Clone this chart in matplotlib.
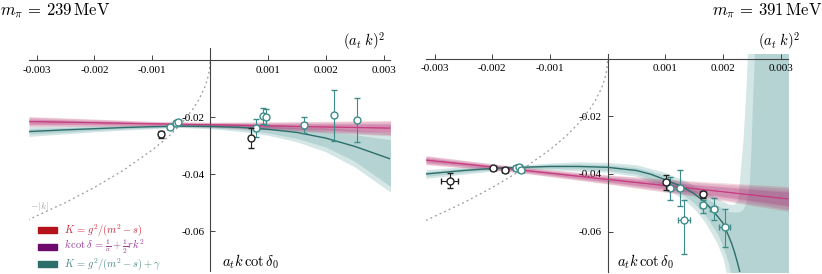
import matplotlib.pyplot as plt
import numpy as np
from matplotlib.patches import Rectangle

plt.rcParams['font.family'] = ['Liberation Serif', 'DejaVu Serif']
plt.rcParams['mathtext.fontset'] = 'cm'
plt.rcParams['axes.unicode_minus'] = False

# colours
RED = "#b5121b"
PURPLE = "#6e0a6e"
TEAL = "#2b6e6a"
TEAL_PT = "#3d8c8a"
BAND_OUT = "#d4e6e6"
BAND_IN = "#b5d3d3"

# ---------------- m_pi = 239 MeV ----------------
# teal fit (K = g^2/(m^2-s) + gamma) and its bands
l_x = [-0.00313, -0.0025, -0.002, -0.0015, -0.001, -0.0007, -0.0005, 0.0, 0.0005, 0.001, 0.0015, 0.002, 0.0025, 0.00313]
l_teal = [-0.0251, -0.0245, -0.0241, -0.0237, -0.0234, -0.0233, -0.0232, -0.0233, -0.0236, -0.0243, -0.0254, -0.0274, -0.0303, -0.0348]
l_hi_out = [-0.0234, -0.0232, -0.0230, -0.0228, -0.0227, -0.0228, -0.0227, -0.0225, -0.0224, -0.0226, -0.0230, -0.0238, -0.0245, -0.0255]
l_hi_in = [-0.0241, -0.0237, -0.0234, -0.0232, -0.0230, -0.0230, -0.0229, -0.0228, -0.0229, -0.0232, -0.0238, -0.0250, -0.0262, -0.0280]
l_lo_in = [-0.0260, -0.0253, -0.0247, -0.0242, -0.0238, -0.0236, -0.0235, -0.0238, -0.0244, -0.0256, -0.0275, -0.0305, -0.0355, -0.0445]
l_lo_out = [-0.0268, -0.0259, -0.0252, -0.0246, -0.0241, -0.0238, -0.0237, -0.0241, -0.0250, -0.0264, -0.0287, -0.0322, -0.0375, -0.0465]

# pink bands (red K-matrix and purple effective range)
lp_x = [-0.00313, -0.002, -0.001, -0.0006, 0.0, 0.001, 0.002, 0.00313]
lp_mid = [-0.0216, -0.0220, -0.0224, -0.0225, -0.0227, -0.0231, -0.0235, -0.0239]
lp_w_out = [0.0018, 0.0013, 0.0009, 0.0008, 0.0009, 0.0014, 0.0020, 0.0027]
lp_w_in = [0.0010, 0.0007, 0.0005, 0.0004, 0.0005, 0.0008, 0.0012, 0.0016]

# lattice points
l_blk_x = [-0.00085, 0.00070]
l_blk_y = [-0.0261, -0.0273]
l_blk_xe = [0.00004, 0.00003]
l_blk_ye = [0.0011, 0.0036]

l_tl_x = [-0.00070, -0.00059, -0.00055, 0.00080, 0.00092, 0.00097, 0.00163, 0.00215, 0.00254]
l_tl_y = [-0.0236, -0.0222, -0.0217, -0.0238, -0.0197, -0.0199, -0.0227, -0.0194, -0.0210]
l_tl_xe = [0.00004, 0.00004, 0.00004, 0.00003, 0.00003, 0.00003, 0.00003, 0.00003, 0.00003]
l_tl_ye = [0.0007, 0.0006, 0.0006, 0.0031, 0.0028, 0.0028, 0.0028, 0.0089, 0.0078]

# ---------------- m_pi = 391 MeV ----------------
r_cx = [-0.00315, -0.0025, -0.002, -0.0015, -0.001, -0.0005, 0.0, 0.0005, 0.00075, 0.001, 0.0013, 0.0015,
        0.0017, 0.0019, 0.002, 0.0021, 0.00215, 0.0022, 0.00225, 0.0023]
r_teal = [-0.0400, -0.0388, -0.0381, -0.0377, -0.0374, -0.0374, -0.0377, -0.0388, -0.0401, -0.0420, -0.0445, -0.0468,
          -0.0500, -0.0545, -0.0570, -0.0615, -0.0640, -0.0670, -0.0705, -0.0745]

r_bx = [-0.00315, -0.0025, -0.002, -0.0016, -0.001, -0.0005, 0.0, 0.0005, 0.001, 0.0013, 0.0015, 0.0017, 0.0019,
        0.002, 0.0021, 0.0022, 0.00226, 0.0023, 0.00235, 0.0024, 0.00243, 0.00246, 0.00249, 0.00252, 0.00255, 0.00315]
r_hi_out = [-0.0385, -0.0375, -0.0371, -0.0371, -0.0362, -0.0358, -0.0360, -0.0368, -0.0395, -0.0420, -0.0440, -0.0460,
            -0.0484, -0.0495, -0.0505, -0.0505, -0.0486, -0.0397, -0.0280, -0.0108, 0.003, 0.003, 0.003, 0.003, 0.003, 0.003]
r_hi_in = [-0.0392, -0.0381, -0.0376, -0.0374, -0.0367, -0.0365, -0.0368, -0.0378, -0.0405, -0.0432, -0.0455, -0.0482,
           -0.0508, -0.0520, -0.0530, -0.0532, -0.0532, -0.0530, -0.0522, -0.0500, -0.0470, -0.0430, -0.0300, -0.0120, 0.003, 0.003]
r_lo_in = [-0.0408, -0.0395, -0.0386, -0.0380, -0.0381, -0.0383, -0.0388, -0.0400, -0.0440, -0.0470, -0.0500, -0.0545,
           -0.0605, -0.0650, -0.0710, -0.0800, -0.08, -0.08, -0.08, -0.08, -0.08, -0.08, -0.08, -0.08, -0.08, -0.08]
r_lo_out = [-0.0415, -0.0401, -0.0390, -0.0383, -0.0386, -0.0390, -0.0394, -0.0408, -0.0450, -0.0485, -0.0520, -0.0570,
            -0.0640, -0.0690, -0.0780, -0.0800, -0.08, -0.08, -0.08, -0.08, -0.08, -0.08, -0.08, -0.08, -0.08, -0.08]

rp_x = [-0.00315, -0.0016, 0.0, 0.0016, 0.00315]
rp_mid = [-0.0352, -0.0384, -0.0419, -0.0453, -0.0487]
rp_w_out = [0.0016, 0.0010, 0.0016, 0.0027, 0.0043]
rp_w_in = [0.0009, 0.0005, 0.0009, 0.0016, 0.0027]

r_blk_x = [-0.00274, -0.00198, -0.00178, 0.00102, 0.00165]
r_blk_y = [-0.0424, -0.0381, -0.0387, -0.0428, -0.0471]
r_blk_xe = [0.00015, 0.00005, 0.00005, 0.00004, 0.00004]
r_blk_ye = [0.0026, 0.0004, 0.0005, 0.0026, 0.0012]

r_tl_x = [-0.00159, -0.00154, -0.00150, 0.00109, 0.00125, 0.00133, 0.00165, 0.00184, 0.00203]
r_tl_y = [-0.0381, -0.0375, -0.0386, -0.0450, -0.0450, -0.0561, -0.0508, -0.0523, -0.0583]
r_tl_xe = [0.00005, 0.00005, 0.00005, 0.00004, 0.00004, 0.00010, 0.00004, 0.00006, 0.00010]
r_tl_ye_lo = [0.0005, 0.0005, 0.0005, 0.0040, 0.0062, 0.0116, 0.0028, 0.0037, 0.0070]
r_tl_ye_hi = [0.0005, 0.0005, 0.0005, 0.0040, 0.0062, 0.0070, 0.0018, 0.0038, 0.0063]

# -|k| line (x = k^2 < 0)
k_x = [-0.00315, -0.0025, -0.002, -0.0015, -0.001, -0.0007, -0.0005, -0.0003, -0.0002, -0.0001,
       -0.00005, -0.00002, -0.00001, -0.000004, 0.0]
k_y = [-0.0561, -0.0500, -0.0447, -0.0387, -0.0316, -0.0265, -0.0224, -0.0173, -0.0141, -0.0100,
       -0.0071, -0.0045, -0.0032, -0.0020, 0.0]

legend_labels = [r"$K\, =\, g^2/(m^2 - s)$",
                 r"$k\,\cot\delta\, =\, \frac{1}{a} + \frac{1}{2}rk^2$",
                 r"$K\, =\, g^2/(m^2 - s) + \gamma$"]
legend_patch = [RED, PURPLE, TEAL]
legend_text = ["#c8283c", "#9a3a9a", "#4a8a86"]

W, H = 822, 274
fig = plt.figure(figsize=(W / 100, H / 100), dpi=100)


def px_axes(x0, x1, y0, y1):
    return fig.add_axes([x0 / W, 1 - y1 / H, (x1 - x0) / W, (y1 - y0) / H])


def style_axes(ax, xlim, ylim):
    ax.set_xlim(*xlim)
    ax.set_ylim(*ylim)
    for s in ["top", "right"]:
        ax.spines[s].set_visible(False)
    ax.spines["left"].set_position(("data", 0))
    ax.spines["bottom"].set_position(("data", 0))
    for s in ["left", "bottom"]:
        ax.spines[s].set_color("#444444")
        ax.spines[s].set_linewidth(0.8)
    ax.set_xticks([-0.003, -0.002, -0.001, 0.001, 0.002, 0.003])
    ax.set_xticklabels(["-0.003", "-0.002", "-0.001", "0.001", "0.002", "0.003"])
    ax.set_yticks([-0.02, -0.04, -0.06])
    ax.set_yticklabels(["-0.02", "-0.04", "-0.06"])
    ax.tick_params(direction="in", length=3.5, width=0.7, color="#444444", labelsize=8, pad=4)
    ax.patch.set_alpha(0)


def draw_pink(ax, x, mid, w_out, w_in):
    x = np.array(x)
    mid = np.array(mid)
    w_out = np.array(w_out)
    w_in = np.array(w_in)
    for c, f in [("#c8283c", 1.0), ("#9a2890", 0.85)]:
        ax.fill_between(x, mid - w_out * f, mid + w_out * f, color=c, alpha=0.18, lw=0, zorder=2)
        ax.fill_between(x, mid - w_in * f, mid + w_in * f, color=c, alpha=0.16, lw=0, zorder=2)
    ax.plot(x, mid, color="#d0306a", lw=0.8, zorder=3)
    ax.plot(x, mid, color="#b84a9e", lw=0.5, alpha=0.6, zorder=3)


def draw_points(ax, x, y, xe, ye, col, z):
    ax.errorbar(x, y, xerr=xe, yerr=ye, fmt="o", ms=5, mfc="white", mec=col, mew=1.0,
                ecolor=col, elinewidth=0.8, capsize=2.5, capthick=0.8, zorder=z)


# ----- left panel -----
ax1 = px_axes(29, 390, 48, 271)
style_axes(ax1, (-0.00313, 0.00311), (-0.074, 0.0042))
ax1.fill_between(l_x, l_lo_out, l_hi_out, color=BAND_OUT, lw=0, zorder=1)
ax1.fill_between(l_x, l_lo_in, l_hi_in, color=BAND_IN, lw=0, zorder=1)
draw_pink(ax1, lp_x, lp_mid, lp_w_out, lp_w_in)
ax1.plot(l_x, l_teal, color=TEAL, lw=1.0, zorder=3)
ax1.plot(k_x, k_y, color="#999999", ls=(0, (1.5, 2.5)), lw=0.9, zorder=2)
ax1.text(-0.00312, -0.0515, r"$-|k|$", color="#a0a0a0", fontsize=7, va="center", zorder=4)
draw_points(ax1, l_tl_x, l_tl_y, l_tl_xe, l_tl_ye, TEAL_PT, 5)
draw_points(ax1, l_blk_x, l_blk_y, l_blk_xe, l_blk_ye, "#222222", 6)

# legend, drawn by hand in figure pixels
for i, (lab, pc, tc) in enumerate(zip(legend_labels, legend_patch, legend_text)):
    yc = 230 + 17 * i
    fig.patches.append(Rectangle((38 / W, 1 - (yc + 3) / H), 19 / W, 6 / H,
                                 transform=fig.transFigure, color=pc))
    fig.text(64 / W, 1 - yc / H, lab, color=tc, fontsize=7.5, ha="left", va="center")

# ----- right panel -----
ax2 = px_axes(426, 788, 54, 272)
style_axes(ax2, (-0.00315, 0.00313), (-0.074, 0.0016))
ax2.fill_between(r_bx, r_lo_out, r_hi_out, color=BAND_OUT, lw=0, zorder=1)
ax2.fill_between(r_bx, r_lo_in, r_hi_in, color=BAND_IN, lw=0, zorder=1)
draw_pink(ax2, rp_x, rp_mid, rp_w_out, rp_w_in)
ax2.plot(r_cx, r_teal, color=TEAL, lw=1.0, zorder=3)
ax2.plot(k_x, k_y, color="#999999", ls=(0, (1.5, 2.5)), lw=0.9, zorder=2)
draw_points(ax2, r_tl_x, r_tl_y, r_tl_xe, [r_tl_ye_lo, r_tl_ye_hi], TEAL_PT, 5)
draw_points(ax2, r_blk_x, r_blk_y, r_blk_xe, r_blk_ye, "#222222", 6)

# labels
for cx, lx in [(364, 222), (779, 617)]:
    fig.text(cx / W, 1 - 41 / H, r"$(a_t\;k)^2$", ha="center", va="center", fontsize=10.5)
    fig.text(lx / W, 1 - 262 / H, r"$a_t k\,\cot\delta_0$", ha="left", va="center", fontsize=10.5)

fig.text(0.0, 1 - 11 / H, r"$m_\pi\, =\, 239\,\mathrm{MeV}$", ha="left", va="center", fontsize=12)
fig.text(1.0, 1 - 11 / H, r"$m_\pi\, =\, 391\,\mathrm{MeV}$", ha="right", va="center", fontsize=12)

fig.savefig("out.png", dpi=100)
